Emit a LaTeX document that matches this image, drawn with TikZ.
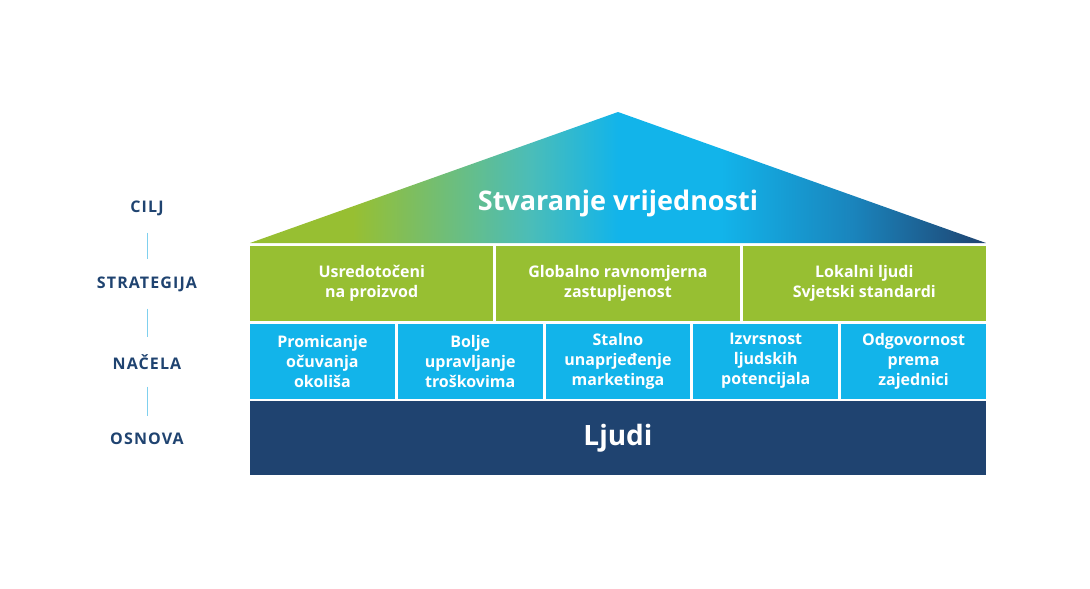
\documentclass[tikz,border=0pt]{standalone}
\usepackage{fontspec}
\setmainfont{Open Sans}
\newfontfamily\sidefont{Open Sans}[LetterSpace=7]

\definecolor{kucagreen}{HTML}{97BF32}
\definecolor{kucacyan}{HTML}{12B4EA}
\definecolor{kucanavy}{HTML}{1F4370}
\definecolor{kucateal}{HTML}{4BBDB8}
\definecolor{kucamid}{HTML}{1A84BC}
\definecolor{kucaline}{HTML}{7FD0EE}

\pgfdeclarehorizontalshading{roofshade}{100bp}{color(0bp)=(kucagreen); color(25bp)=(kucagreen); color(32bp)=(kucagreen); color(44bp)=(kucateal); color(50bp)=(kucacyan); color(57bp)=(kucacyan); color(66bp)=(kucamid); color(75bp)=(kucanavy); color(100bp)=(kucanavy)}

\begin{document}
\begin{tikzpicture}[x=1pt, y=-1pt,
  box/.style={rectangle, inner sep=0pt, minimum height=75pt, align=center, text=white, font=\bfseries\fontsize{16}{20}\selectfont},
  sidelabel/.style={inner sep=0pt, text=kucanavy, font=\sidefont\bfseries\fontsize{16}{18}\selectfont},
  sideline/.style={kucaline, line width=1pt, shorten <=17pt, shorten >=17pt}]

\useasboundingbox (0,0) rectangle (1090,589);

% krov
\shade[shading=roofshade] (250,243) -- (618,112) -- (986,243) -- cycle;
\node[text=white, font=\bfseries\fontsize{27}{30}\selectfont] (vrijednost) at (618,203) {Stvaranje vrijednosti};

% strategija
\foreach \x/\txt [count=\i] in {371.7/{Usredotočeni\\na proizvod}, 618/{Globalno ravnomjerna\\zastupljenost}, 864.3/{Lokalni ljudi\\Svjetski standardi}} {
  \node[box, fill=kucagreen, minimum width=243.3pt] (s\i) at (\x,283.5) {\txt};
}

% nacela
\foreach \x/\txt [count=\i] in {322.4/{Promicanje\\očuvanja\\okoliša}, 470.2/{Bolje\\upravljanje\\troškovima}, 618/{Stalno\\unaprjeđenje\\marketinga}, 765.8/{Izvrsnost\\ljudskih\\potencijala}, 913.6/{Odgovornost\\prema\\zajednici}} {
  \node[box, fill=kucacyan, minimum width=144.8pt] (n\i) at (\x,361) {\txt};
}

% osnova
\node[box, fill=kucanavy, minimum width=736pt, minimum height=74pt, font=\bfseries\fontsize{28}{30}\selectfont] (ljudi) at (618,438) {Ljudi};

% lijeva strana
\node[sidelabel] (cilj) at (147,208) {CILJ};
\node[sidelabel] (strategija) at (147,284) {STRATEGIJA};
\node[sidelabel] (nacela) at (147,362) {NAČELA};
\node[sidelabel] (osnova) at (147,439) {OSNOVA};

\draw[sideline] (cilj) -- (strategija);
\draw[sideline] (strategija) -- (nacela);
\draw[sideline] (nacela) -- (osnova);
\end{tikzpicture}
\end{document}
